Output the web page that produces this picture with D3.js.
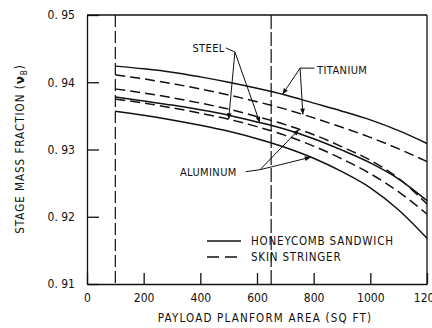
<!DOCTYPE html>
<html><head><meta charset="utf-8">
<script src="https://cdn.jsdelivr.net/npm/d3@7"></script>
<style>
body{margin:0;background:#fff;}
text{font-family:"DejaVu Sans","Liberation Sans",sans-serif;font-stretch:condensed;fill:#111;}
</style></head>
<body><svg id="c" width="432" height="328"></svg>
<script>
const areas = [100,200,300,400,500,600,700,800,900,1000,1100,1200];
const titaniumHC = [0.9424,0.9420,0.9415,0.9408,0.9400,0.9391,0.9381,0.9369,0.9357,0.9344,0.9328,0.9309];
const titaniumSS = [0.9411,0.9405,0.9398,0.9390,0.9381,0.9371,0.9360,0.9347,0.9333,0.9318,0.9301,0.9282];
const aluminumSS = [0.9390,0.9384,0.9377,0.9369,0.9360,0.9349,0.9337,0.9322,0.9304,0.9284,0.9257,0.9219];
const steelHC    = [0.9378,0.9372,0.9366,0.9359,0.9351,0.9341,0.9330,0.9316,0.9299,0.9280,0.9256,0.9224];
const steelSS    = [0.9375,0.9369,0.9362,0.9354,0.9345,0.9334,0.9321,0.9305,0.9286,0.9264,0.9237,0.9204];
const aluminumHC = [0.9357,0.9351,0.9344,0.9336,0.9327,0.9316,0.9303,0.9287,0.9267,0.9243,0.9210,0.9168];
const xTicks = [0,200,400,600,800,1000,1200];
const yTicks = [0.91,0.92,0.93,0.94,0.95];
const yTickLabels = ["0. 91","0. 92","0. 93","0. 94","0. 95"];
const refLines = [100,650];
const series = [
  {name:"titaniumHC", v:titaniumHC, type:"HC"},
  {name:"titaniumSS", v:titaniumSS, type:"SS"},
  {name:"aluminumSS", v:aluminumSS, type:"SS"},
  {name:"steelHC", v:steelHC, type:"HC"},
  {name:"steelSS", v:steelSS, type:"SS"},
  {name:"aluminumHC", v:aluminumHC, type:"HC"}
];
// annotations: label position in data coords, apex in data coords, tips on series at area
const notes = [
  {label:"STEEL", lx:372, ly:0.9451, lineFrom:[490,0.9451], apex:[522,0.9445], tips:[["steelSS",500],["steelHC",610]]},
  {label:"TITANIUM", lx:812, ly:0.9418, lineFrom:[803,0.9421], apex:[752,0.9421], tips:[["titaniumHC",690],["titaniumSS",762]]},
  {label:"ALUMINUM", lx:328, ly:0.9267, lineFrom:[560,0.9267], apex:[611,0.9270], tips:[["aluminumSS",748],["aluminumHC",790]]}
];
const legendItems = [{label:"HONEYCOMB SANDWICH", type:"HC"},{label:"SKIN STRINGER", type:"SS"}];

const svg = d3.select("#c");
const x = d3.scaleLinear().domain([0,1200]).range([87,427]);
const y = d3.scaleLinear().domain([0.91,0.95]).range([284,15]);
const dash = {HC:null, SS:"10,5"};

// frame
svg.append("line").attr("x1",x(0)).attr("x2",x(1200)).attr("y1",y(0.95)).attr("y2",y(0.95)).attr("stroke","#111").attr("stroke-width",1.3);
svg.append("line").attr("x1",x(1200)).attr("x2",x(1200)).attr("y1",y(0.95)).attr("y2",y(0.91)).attr("stroke","#111").attr("stroke-width",1.3);

// axes
const ya = svg.append("g").attr("transform",`translate(${x(0)},0)`)
  .call(d3.axisLeft(y).tickValues(yTicks).tickSizeInner(-12).tickSizeOuter(0).tickPadding(12)
  .tickFormat((d,i)=>yTickLabels[i]));
const xa = svg.append("g").attr("transform",`translate(0,${y(0.91)})`)
  .call(d3.axisBottom(x).tickValues(xTicks).tickSizeInner(-11).tickSizeOuter(0).tickPadding(9).tickFormat(d3.format("d")));
[ya,xa].forEach(g=>{
  g.select(".domain").attr("stroke","#111").attr("stroke-width",1.3);
  g.selectAll(".tick line").attr("stroke","#111").attr("stroke-width",1.3);
  g.selectAll("text").attr("font-size",12).attr("fill","#111")
   .style("font-family",'"DejaVu Sans","Liberation Sans",sans-serif').style("font-stretch","condensed");
});

// reference dashed verticals
svg.selectAll(".ref").data(refLines).enter().append("line")
  .attr("x1",d=>x(d)).attr("x2",d=>x(d)).attr("y1",y(0.95)).attr("y2",y(0.91))
  .attr("stroke","#111").attr("stroke-width",1.2).attr("stroke-dasharray",(d,i)=>i==0?"12,4":"14,3");

// curves
const line = d3.line().x((d,i)=>x(areas[i])).y(d=>y(d)).curve(d3.curveMonotoneX);
svg.selectAll(".s").data(series).enter().append("path")
  .attr("d",d=>line(d.v)).attr("fill","none").attr("stroke","#111").attr("stroke-width",1.5)
  .attr("stroke-dasharray",d=>dash[d.type]);

// arrow marker
svg.append("defs").append("marker").attr("id","ah").attr("viewBox","0 0 10 10").attr("refX",10).attr("refY",5)
  .attr("markerWidth",7).attr("markerHeight",6).attr("orient","auto-start-reverse").attr("markerUnits","userSpaceOnUse")
  .append("path").attr("d","M0,1 L10,5 L0,9 Z").attr("fill","#111");

function valAt(name, a){
  const s = series.find(d=>d.name===name).v;
  return d3.scaleLinear().domain(areas).range(s)(a);
}
notes.forEach(n=>{
  svg.append("text").attr("x",x(n.lx)).attr("y",y(n.ly)).attr("dy","0.35em")
    .attr("font-size",11).attr("letter-spacing",0.4).text(n.label);
  svg.append("line").attr("x1",x(n.lineFrom[0])).attr("y1",y(n.lineFrom[1])).attr("x2",x(n.apex[0])).attr("y2",y(n.apex[1]))
    .attr("stroke","#111").attr("stroke-width",1);
  n.tips.forEach(t=>{
    svg.append("line").attr("x1",x(n.apex[0])).attr("y1",y(n.apex[1]))
      .attr("x2",x(t[1])).attr("y2",y(valAt(t[0],t[1])))
      .attr("stroke","#111").attr("stroke-width",1).attr("marker-end","url(#ah)");
  });
});

// legend
const lg = svg.append("g").attr("transform","translate(207,241)");
legendItems.forEach((d,i)=>{
  lg.append("line").attr("x1",0).attr("x2",34).attr("y1",i*16).attr("y2",i*16).attr("stroke","#111")
    .attr("stroke-width",1.5).attr("stroke-dasharray",d.type==="SS"?"12,6":null);
  lg.append("text").attr("x",44).attr("y",i*16).attr("dy","0.35em").attr("font-size",11.5)
    .attr("letter-spacing",0.8).text(d.label);
});

// axis titles
svg.append("text").attr("x",(x(0)+x(1200))/2+8).attr("y",322).attr("text-anchor","middle")
  .attr("font-size",11.5).attr("letter-spacing",1.2).text("PAYLOAD PLANFORM AREA (SQ FT)");
const yt = svg.append("text").attr("transform","translate(24,149) rotate(-90)").attr("text-anchor","middle")
  .attr("font-size",11.5).attr("letter-spacing",1);
yt.append("tspan").text("STAGE MASS FRACTION (");
yt.append("tspan").attr("font-weight","bold").attr("font-size",13).text("ν");
yt.append("tspan").attr("font-size",8).attr("dy",3).text("B");
yt.append("tspan").attr("dy",-3).text(")");
</script></body></html>
